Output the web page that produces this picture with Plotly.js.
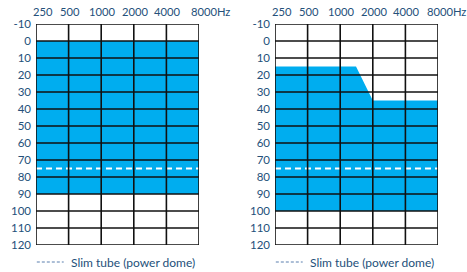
<!DOCTYPE html>
<html><head><meta charset="utf-8">
<script src="https://cdn.plot.ly/plotly-3.0.1.min.js"></script>
<style>html,body{margin:0;padding:0;background:#fff}#c{width:467px;height:272px}</style>
</head><body><div id="c"></div>
<script>
const freqs = [250, 500, 1000, 2000, 4000, 8000];
const freqLabels = ['250', '500', '1000', '2000', '4000', '8000Hz'];
const dbTicks = [-10, 0, 10, 20, 30, 40, 50, 60, 70, 80, 90, 100, 110, 120];
// left panel fitting range
const leftX = [250, 8000];
const leftTop = [0, 0];
const leftBottom = [90, 90];
// right panel fitting range
const rightX = [250, 1400, 2000, 8000];
const rightTop = [15, 15, 35, 35];
const rightBottom = [100, 100, 100, 100];
const slimTube = 75;
const legendText = 'Slim tube (power dome)';

const BLUE = '#00ADEF', TXT = '#24507a', FONT = 'Lato, "Noto Sans", sans-serif';

function area(xs, top, bottom, xa, ya) {
  const x = xs.concat(xs.slice().reverse());
  const y = top.concat(bottom.slice().reverse());
  return {x, y, xaxis: xa, yaxis: ya, type: 'scatter', mode: 'lines', fill: 'toself',
    fillcolor: BLUE, line: {width: 0, color: BLUE}, hoverinfo: 'skip', showlegend: false};
}
function dashLine(xa, ya) {
  return {x: [freqs[0], freqs[freqs.length - 1]], y: [slimTube, slimTube], xaxis: xa, yaxis: ya,
    type: 'scatter', mode: 'lines', line: {color: '#fff', width: 2, dash: '6px,4px'}, showlegend: false, hoverinfo: 'skip'};
}
const data = [
  area(leftX, leftTop, leftBottom, 'x', 'y'),
  area(rightX, rightTop, rightBottom, 'x2', 'y2'),
  dashLine('x', 'y'), dashLine('x2', 'y2')
];

const yTop = 1 - 24 / 272, yBot = 1 - 245 / 272;
function xax(dom) {
  return {type: 'log', domain: dom, range: [Math.log10(freqs[0]), Math.log10(freqs[freqs.length - 1])],
    tickvals: freqs, showticklabels: false, showgrid: false, zeroline: false, showline: false, ticks: '', fixedrange: true};
}
function yax(anchor) {
  return {domain: [yBot, yTop], range: [120, -10], tickvals: dbTicks, ticktext: dbTicks.map(String),
    showgrid: false, zeroline: false, showline: false, ticks: '', anchor,
    tickfont: {family: FONT, size: 11.5, color: TXT}, ticklabelstandoff: 4, fixedrange: true};
}

const shapes = [];
const annotations = [];
[['x', 'y'], ['x2', 'y2']].forEach(([xr, yr], p) => {
  freqs.forEach(f => shapes.push({type: 'line', layer: 'above', xref: xr, yref: yr, x0: f, x1: f,
    y0: dbTicks[0], y1: dbTicks[dbTicks.length - 1], line: {color: '#111', width: 1.6}}));
  dbTicks.forEach(d => shapes.push({type: 'line', layer: 'above', xref: xr, yref: yr, x0: freqs[0], x1: freqs[freqs.length - 1],
    y0: d, y1: d, line: {color: '#111', width: 1.6}}));
  freqs.forEach((f, i) => {
    const last = i === freqs.length - 1;
    annotations.push({xref: xr, yref: 'paper', x: Math.log10(f), y: 1 - 12 / 272, text: freqLabels[i],
      showarrow: false, xanchor: last ? 'left' : 'center', yanchor: 'middle',
      xshift: i === 0 ? 7 : (last ? (p === 0 ? -10 : -13) : 1), font: {family: FONT, size: 11.2, color: TXT}});
  });
  // legend
  shapes.push({type: 'line', xref: xr + ' domain', yref: 'paper', x0: 0.005, x1: 0.17, y0: 1 - 262 / 272, y1: 1 - 262 / 272,
    line: {color: '#5a7fae', width: 1, dash: '3px,2px'}});
  annotations.push({xref: xr + ' domain', yref: 'paper', x: 0.205, y: 1 - 262 / 272, text: legendText, showarrow: false,
    xanchor: 'left', yanchor: 'middle', font: {family: FONT, size: 12, color: TXT}});
});

const layout = {
  width: 467, height: 272, margin: {l: 0, r: 0, t: 0, b: 0},
  paper_bgcolor: '#fff', plot_bgcolor: '#fff', showlegend: false,
  xaxis: xax([36 / 467, 199 / 467]), xaxis2: xax([275 / 467, 438 / 467]),
  yaxis: yax('x'), yaxis2: yax('x2'),
  shapes, annotations
};
Plotly.newPlot('c', data, layout, {staticPlot: true});
</script></body></html>
